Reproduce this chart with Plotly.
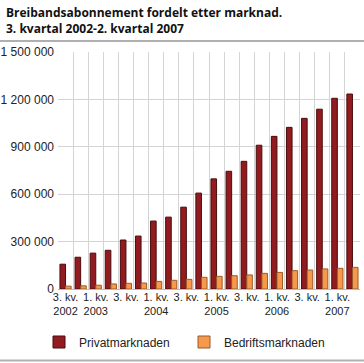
import plotly.graph_objects as go

quarters = ["3. kv. 2002", "4. kv. 2002",
            "1. kv. 2003", "2. kv. 2003", "3. kv. 2003", "4. kv. 2003",
            "1. kv. 2004", "2. kv. 2004", "3. kv. 2004", "4. kv. 2004",
            "1. kv. 2005", "2. kv. 2005", "3. kv. 2005", "4. kv. 2005",
            "1. kv. 2006", "2. kv. 2006", "3. kv. 2006", "4. kv. 2006",
            "1. kv. 2007", "2. kv. 2007"]
privat = [157000, 201000, 227000, 245000, 310000, 335000, 430000, 455000,
          518000, 607000, 697000, 745000, 808000, 910000, 966000, 1023000,
          1080000, 1138000, 1207000, 1234000]
bedrift = [18000, 20000, 24000, 32000, 36000, 38000, 48000, 55000,
           61000, 74000, 80000, 84000, 89000, 99000, 105000, 116000,
           120000, 127000, 131000, 137000]
tick_labels = ["3. kv.<br>2002", "", "1. kv.<br>2003", "", "3. kv.", "",
               "1. kv.<br>2004", "", "3. kv.", "", "1. kv.<br>2005", "",
               "3. kv.", "", "1. kv.<br>2006", "", "3. kv.", "",
               "1. kv.<br>2007", ""]
y_ticks = [0, 300000, 600000, 900000, 1200000, 1500000]
title_text = "Breibandsabonnement fordelt etter marknad.<br>3. kvartal 2002-2. kvartal 2007"

xs = list(range(len(quarters)))
shown = [i for i, t in enumerate(tick_labels) if t]

W, H = 364, 363
L, R, T, B = 58, 4, 52, 74
pw, ph = W - L - R, H - T - B

def px_x(p):
    return (p - L) / pw

def px_y(p):
    return (H - B - p) / ph

fig = go.Figure()
fig.add_bar(x=xs, y=privat, name="Privatmarknaden",
            marker=dict(color="#921b20", line=dict(color="#4a0c0e", width=1)),
            hovertext=quarters)
fig.add_bar(x=xs, y=bedrift, name="Bedriftsmarknaden",
            marker=dict(color="#f7994a", line=dict(color="#9a5a2a", width=1)),
            hovertext=quarters)

grid = "#d4d4d4"
rule = "#b0b0b0"

fig.update_layout(
    width=W, height=H,
    margin=dict(l=L, r=R, t=T, b=B, autoexpand=False),
    paper_bgcolor="white", plot_bgcolor="white",
    font=dict(family="Liberation Sans, Arial", size=11, color="#222"),
    barmode="group", bargap=0.26, bargroupgap=0.0,
    showlegend=True,
    legend=dict(orientation="h", x=px_x(39), xanchor="left", y=px_y(342),
                yanchor="middle", font=dict(size=12), entrywidth=100,
                entrywidthmode="pixels", traceorder="normal"),
    xaxis=dict(range=[-0.5, len(xs) - 0.5], tickmode="array",
               tickvals=shown, ticktext=[tick_labels[i] for i in shown],
               showgrid=False, zeroline=False, ticks="", tickangle=0,
               tickfont=dict(size=11), automargin=False,
               showline=False,
               minor=dict(tickmode="linear", tick0=-0.5, dtick=1,
                          showgrid=True, gridcolor=grid, gridwidth=1, ticks="")),
    yaxis=dict(range=[0, 1500000], tickvals=y_ticks, automargin=False,
               tickformat=",d", showgrid=True, gridcolor=grid, gridwidth=1,
               zeroline=True, zerolinecolor="#bbbbbb", zerolinewidth=1,
               ticks="", tickfont=dict(size=12), ticklabelstandoff=3),
    separators=", ",
    annotations=[dict(text=title_text, xref="paper", yref="paper",
                      x=px_x(4), y=px_y(2), xanchor="left", yanchor="top",
                      align="left", showarrow=False,
                      font=dict(family="Open Sans", size=12, color="#111",
                                weight="bold"))],
    shapes=[
        dict(type="line", xref="paper", yref="paper", x0=px_x(0), x1=px_x(W),
             y0=px_y(41), y1=px_y(41), layer="above",
             line=dict(color=rule, width=2)),
        dict(type="line", xref="paper", yref="paper", x0=px_x(0), x1=px_x(W),
             y0=px_y(360.5), y1=px_y(360.5), layer="above",
             line=dict(color=rule, width=2)),
    ],
)

fig.write_html("out.html", config={"displayModeBar": False},
               post_script="document.body.style.margin='0';document.body.style.overflow='hidden';")
